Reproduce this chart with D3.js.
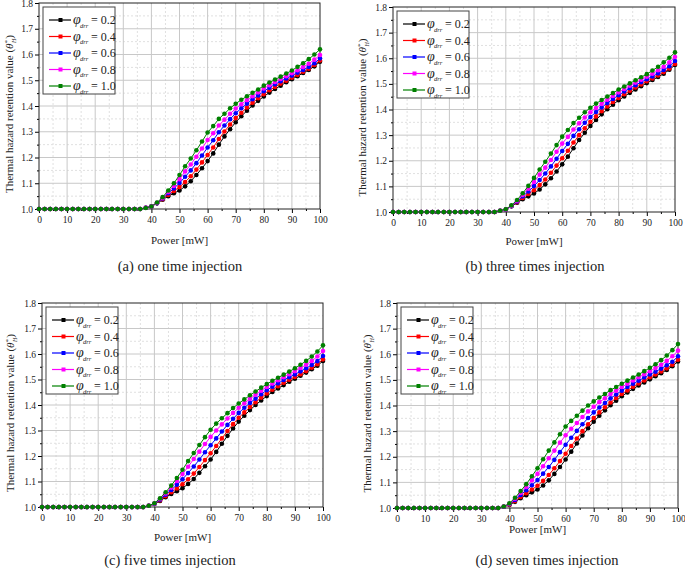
<!DOCTYPE html>
<html>
<head>
<meta charset="utf-8">
<script src="https://cdn.jsdelivr.net/npm/d3@7"></script>
<style>
  body { margin: 0; background: #fff; }
  svg { display: block; }
  svg text { font-family: "Liberation Serif", "Times New Roman", Times, "DejaVu Serif", serif; }
</style>
</head>
<body>
<div id="chart"></div>
<script>
// x values (Power, mW) and tick labels
const power = [0,2,4,6,8,10,12,14,16,18,20,22,24,26,28,30,32,34,36,38,40,42,44,46,48,50,52,54,56,58,60,62,64,66,68,70,72,74,76,78,80,82,84,86,88,90,92,94,96,98,100];
const xTicks = [0,10,20,30,40,50,60,70,80,90,100];
const xMinor = [5,15,25,35,45,55,65,75,85,95];
const yTicks = [1.0,1.1,1.2,1.3,1.4,1.5,1.6,1.7,1.8];
const yMinor = [1.05,1.15,1.25,1.35,1.45,1.55,1.65,1.75];
const phiLabels = ["0.2","0.4","0.6","0.8","1.0"];
const seriesColors = ["#000000","#ff0000","#0000ff","#ff00ff","#008000"];
const captions = ["(a) one time injection","(b) three times injection","(c) five times injection","(d) seven times injection"];
const serif = "'Liberation Serif', 'Times New Roman', Times, 'DejaVu Serif', serif";

// (a) one time injection
const a02 = [1,1,1,1,1,1,1,1,1,1,1,1,1,1,1,1,1,1,1,1.005,1.010,1.022,1.036,1.050,1.061,1.072,1.088,1.108,1.132,1.158,1.186,1.216,1.250,1.282,1.310,1.337,1.360,1.382,1.402,1.420,1.437,1.452,1.466,1.479,1.492,1.504,1.516,1.528,1.540,1.554,1.572];
const a04 = [1,1,1,1,1,1,1,1,1,1,1,1,1,1,1,1,1,1,1,1.005,1.010,1.023,1.038,1.055,1.070,1.085,1.105,1.127,1.153,1.181,1.210,1.239,1.272,1.301,1.328,1.353,1.374,1.394,1.413,1.430,1.446,1.461,1.474,1.487,1.498,1.510,1.521,1.533,1.545,1.559,1.577];
const a06 = [1,1,1,1,1,1,1,1,1,1,1,1,1,1,1,1,1,1,1,1.005,1.010,1.023,1.041,1.061,1.080,1.101,1.125,1.150,1.178,1.208,1.239,1.267,1.298,1.324,1.349,1.372,1.391,1.409,1.426,1.441,1.457,1.471,1.484,1.496,1.507,1.518,1.529,1.540,1.552,1.566,1.585];
const a08 = [1,1,1,1,1,1,1,1,1,1,1,1,1,1,1,1,1,1,1,1.005,1.010,1.024,1.043,1.066,1.090,1.116,1.146,1.173,1.203,1.235,1.268,1.294,1.324,1.347,1.370,1.390,1.407,1.423,1.438,1.453,1.468,1.481,1.493,1.505,1.516,1.527,1.539,1.551,1.564,1.580,1.598];
const a10 = [1,1,1,1,1,1,1,1,1,1,1,1,1,1,1,1,1,1,1,1.004,1.010,1.025,1.046,1.072,1.100,1.132,1.166,1.196,1.228,1.262,1.297,1.322,1.350,1.370,1.391,1.409,1.424,1.438,1.451,1.464,1.479,1.491,1.503,1.514,1.526,1.538,1.552,1.566,1.582,1.600,1.620];

// (b) three times injection
const b02 = [1,1,1,1,1,1,1,1,1,1,1,1,1,1,1,1,1,1,1,1.005,1.010,1.022,1.036,1.050,1.061,1.072,1.088,1.108,1.132,1.158,1.186,1.216,1.249,1.281,1.309,1.336,1.359,1.381,1.401,1.419,1.436,1.451,1.465,1.478,1.491,1.503,1.515,1.527,1.540,1.555,1.574];
const b04 = [1,1,1,1,1,1,1,1,1,1,1,1,1,1,1,1,1,1,1,1.005,1.010,1.023,1.038,1.055,1.070,1.085,1.105,1.127,1.153,1.181,1.210,1.239,1.271,1.300,1.327,1.352,1.373,1.393,1.412,1.429,1.445,1.460,1.473,1.486,1.498,1.510,1.521,1.533,1.546,1.560,1.578];
const b06 = [1,1,1,1,1,1,1,1,1,1,1,1,1,1,1,1,1,1,1,1.005,1.010,1.023,1.041,1.061,1.080,1.101,1.125,1.150,1.178,1.208,1.238,1.266,1.297,1.323,1.348,1.371,1.390,1.408,1.425,1.441,1.456,1.470,1.483,1.495,1.507,1.518,1.529,1.541,1.554,1.569,1.589];
const b08 = [1,1,1,1,1,1,1,1,1,1,1,1,1,1,1,1,1,1,1,1.005,1.010,1.024,1.044,1.067,1.091,1.117,1.146,1.173,1.203,1.235,1.267,1.293,1.322,1.346,1.369,1.389,1.406,1.422,1.438,1.453,1.467,1.480,1.493,1.505,1.516,1.528,1.540,1.553,1.567,1.584,1.605];
const b10 = [1,1,1,1,1,1,1,1,1,1,1,1,1,1,1,1,1,1,1,1.005,1.011,1.026,1.047,1.073,1.102,1.133,1.166,1.196,1.228,1.261,1.294,1.320,1.347,1.368,1.389,1.407,1.423,1.437,1.451,1.464,1.478,1.490,1.502,1.514,1.526,1.538,1.552,1.567,1.584,1.602,1.623];

// (c) five times injection
const c02 = [1,1,1,1,1,1,1,1,1,1,1,1,1,1,1,1,1,1,1,1.005,1.012,1.024,1.038,1.051,1.062,1.074,1.090,1.110,1.134,1.160,1.186,1.216,1.248,1.279,1.308,1.335,1.358,1.380,1.400,1.418,1.435,1.451,1.465,1.478,1.491,1.503,1.515,1.527,1.540,1.554,1.573];
const c04 = [1,1,1,1,1,1,1,1,1,1,1,1,1,1,1,1,1,1,1,1.005,1.013,1.026,1.042,1.058,1.073,1.089,1.109,1.131,1.157,1.184,1.211,1.239,1.269,1.298,1.325,1.350,1.371,1.392,1.411,1.429,1.445,1.460,1.474,1.487,1.499,1.510,1.521,1.533,1.546,1.560,1.579];
const c06 = [1,1,1,1,1,1,1,1,1,1,1,1,1,1,1,1,1,1,1,1.005,1.013,1.029,1.048,1.067,1.087,1.109,1.133,1.159,1.186,1.215,1.242,1.269,1.296,1.322,1.346,1.369,1.389,1.408,1.425,1.442,1.458,1.472,1.485,1.498,1.509,1.520,1.532,1.544,1.557,1.572,1.592];
const c08 = [1,1,1,1,1,1,1,1,1,1,1,1,1,1,1,1,1,1,1,1.005,1.014,1.032,1.053,1.076,1.102,1.129,1.158,1.188,1.217,1.247,1.275,1.300,1.324,1.347,1.369,1.389,1.407,1.424,1.440,1.456,1.471,1.484,1.497,1.509,1.521,1.533,1.545,1.558,1.573,1.590,1.612];
const c10 = [1,1,1,1,1,1,1,1,1,1,1,1,1,1,1,1,1,1,1,1.005,1.015,1.034,1.058,1.084,1.114,1.146,1.180,1.212,1.243,1.274,1.303,1.327,1.348,1.368,1.388,1.406,1.422,1.438,1.453,1.468,1.482,1.495,1.507,1.519,1.531,1.544,1.558,1.573,1.590,1.610,1.634];

// (d) seven times injection
const d02 = [1,1,1,1,1,1,1,1,1,1,1,1,1,1,1,1,1,1,1,1.005,1.012,1.024,1.038,1.050,1.061,1.072,1.088,1.108,1.133,1.160,1.189,1.220,1.252,1.283,1.311,1.337,1.360,1.381,1.401,1.419,1.436,1.451,1.465,1.478,1.490,1.502,1.514,1.526,1.539,1.553,1.572];
const d04 = [1,1,1,1,1,1,1,1,1,1,1,1,1,1,1,1,1,1,1,1.005,1.013,1.027,1.043,1.058,1.072,1.087,1.106,1.129,1.155,1.183,1.212,1.242,1.271,1.300,1.327,1.351,1.373,1.393,1.412,1.429,1.445,1.459,1.473,1.486,1.498,1.510,1.521,1.533,1.545,1.559,1.579];
const d06 = [1,1,1,1,1,1,1,1,1,1,1,1,1,1,1,1,1,1,1,1.005,1.015,1.031,1.051,1.069,1.089,1.109,1.134,1.160,1.188,1.218,1.247,1.274,1.301,1.327,1.351,1.373,1.392,1.410,1.428,1.443,1.458,1.472,1.485,1.497,1.509,1.521,1.532,1.544,1.557,1.571,1.592];
const d08 = [1,1,1,1,1,1,1,1,1,1,1,1,1,1,1,1,1,1,1,1.006,1.016,1.036,1.059,1.082,1.108,1.133,1.163,1.194,1.224,1.255,1.284,1.309,1.332,1.355,1.377,1.395,1.413,1.428,1.445,1.458,1.472,1.485,1.498,1.510,1.522,1.534,1.546,1.559,1.574,1.592,1.614];
const d10 = [1,1,1,1,1,1,1,1,1,1,1,1,1,1,1,1,1,1,1,1.006,1.018,1.040,1.066,1.093,1.124,1.155,1.190,1.224,1.256,1.288,1.318,1.340,1.360,1.380,1.400,1.416,1.431,1.445,1.460,1.472,1.485,1.497,1.509,1.521,1.534,1.547,1.561,1.577,1.595,1.616,1.640];

// layout of each sub-figure
const panels = [
  {left: 39,  right: 320, top: 3,   bottom: 209, titleY: 244, capX: 180, capY: 271, labX: 9,   series: [a02,a04,a06,a08,a10], caption: captions[0]},
  {left: 393, right: 675, top: 7,   bottom: 212, titleY: 245, capX: 535, capY: 271, labX: 362, series: [b02,b04,b06,b08,b10], caption: captions[1]},
  {left: 42,  right: 323, top: 303, bottom: 507, titleY: 541, capX: 170, capY: 565, labX: 10,  series: [c02,c04,c06,c08,c10], caption: captions[2]},
  {left: 397, right: 678, top: 303, bottom: 508, titleY: 532.5, capX: 547, capY: 565, labX: 367, series: [d02,d04,d06,d08,d10], caption: captions[3]}
];

const svg = d3.select("#chart").append("svg")
  .attr("width", 685)
  .attr("height", 568)
  .attr("font-family", serif);

svg.append("rect").attr("width", 685).attr("height", 568).attr("fill", "#fff");

function drawPanel(p) {
  const x = d3.scaleLinear().domain([0, 100]).range([p.left, p.right]);
  const y = d3.scaleLinear().domain([1.0, 1.8]).range([p.bottom, p.top]);
  const g = svg.append("g");

  // minor grid (dashed)
  g.selectAll(null).data(xMinor).join("line")
    .attr("x1", d => x(d)).attr("x2", d => x(d))
    .attr("y1", p.top).attr("y2", p.bottom)
    .attr("stroke", "#e0e0e0").attr("stroke-dasharray", "2,2");
  g.selectAll(null).data(yMinor).join("line")
    .attr("x1", p.left).attr("x2", p.right)
    .attr("y1", d => y(d)).attr("y2", d => y(d))
    .attr("stroke", "#e0e0e0").attr("stroke-dasharray", "2,2");

  // major grid
  g.selectAll(null).data(xTicks.slice(1, -1)).join("line")
    .attr("x1", d => x(d)).attr("x2", d => x(d))
    .attr("y1", p.top).attr("y2", p.bottom)
    .attr("stroke", "#c8c8c8");
  g.selectAll(null).data(yTicks.slice(1, -1)).join("line")
    .attr("x1", p.left).attr("x2", p.right)
    .attr("y1", d => y(d)).attr("y2", d => y(d))
    .attr("stroke", "#c8c8c8");

  // axes
  g.append("g").attr("transform", `translate(0,${p.bottom})`)
    .call(d3.axisBottom(x).tickValues(xTicks).tickSize(4).tickPadding(3));
  g.append("g").attr("transform", `translate(0,${p.bottom})`)
    .call(d3.axisBottom(x).tickValues(xMinor).tickSize(2).tickFormat(""));
  g.append("g").attr("transform", `translate(${p.left},0)`)
    .call(d3.axisLeft(y).tickValues(yTicks).tickSize(4).tickPadding(2).tickFormat(d3.format(".1f")));
  g.append("g").attr("transform", `translate(${p.left},0)`)
    .call(d3.axisLeft(y).tickValues(yMinor).tickSize(2).tickFormat(""));
  g.selectAll(".domain").remove();
  g.selectAll("g").attr("font-family", serif);
  g.selectAll(".tick text")
    .attr("font-size", 9.5)
    .attr("fill", "#222");

  // frame
  g.append("rect")
    .attr("x", p.left).attr("y", p.top)
    .attr("width", p.right - p.left).attr("height", p.bottom - p.top)
    .attr("fill", "none").attr("stroke", "#222");

  // series
  const line = d3.line().x((d, i) => x(power[i])).y(d => y(d));
  p.series.forEach((vals, k) => {
    g.append("path").datum(vals)
      .attr("d", line)
      .attr("fill", "none")
      .attr("stroke", seriesColors[k])
      .attr("stroke-width", 1);
    g.selectAll(null).data(vals).join("circle")
      .attr("cx", (d, i) => x(power[i]))
      .attr("cy", d => y(d))
      .attr("r", 2.3)
      .attr("fill", seriesColors[k]);
  });

  // legend
  const bx = p.left + 4, by = p.top + 4;
  g.append("rect").attr("x", bx).attr("y", by).attr("width", 72).attr("height", 87)
    .attr("fill", "#fff").attr("stroke", "#444");
  phiLabels.forEach((lab, k) => {
    const ry = by + 13 + k * 16.5;
    g.append("line").attr("x1", bx + 6).attr("x2", bx + 28).attr("y1", ry).attr("y2", ry)
      .attr("stroke", seriesColors[k]).attr("stroke-width", 1.2);
    g.append("rect").attr("x", bx + 15.5).attr("y", ry - 2).attr("width", 4).attr("height", 4)
      .attr("fill", seriesColors[k]);
    g.append("text").attr("x", bx + 30).attr("y", ry + 4)
      .attr("font-size", 14).attr("font-style", "italic").attr("fill", "#222").text("φ");
    g.append("text").attr("x", bx + 37).attr("y", ry + 7.5)
      .attr("font-size", 6.5).attr("font-style", "italic").attr("fill", "#222").text("drr");
    g.append("text").attr("x", bx + 48).attr("y", ry + 4)
      .attr("font-size", 12).attr("fill", "#222").text("= " + lab);
  });

  // axis titles
  g.append("text")
    .attr("x", (p.left + p.right) / 2).attr("y", p.titleY)
    .attr("text-anchor", "middle").attr("font-size", 11).attr("fill", "#222")
    .text("Power [mW]");

  const yl = g.append("text")
    .attr("transform", `translate(${p.labX + 4},${(p.top + p.bottom) / 2 + 8}) rotate(-90)`)
    .attr("text-anchor", "middle").attr("font-size", 11).attr("fill", "#222");
  yl.append("tspan").text("Thermal hazard retention value (");
  yl.append("tspan").attr("font-style", "italic").text("θ");
  yl.append("tspan").attr("font-size", 7).attr("dy", -4).text("*");
  yl.append("tspan").attr("font-size", 6).attr("font-style", "italic").attr("dx", -3).attr("dy", 7).text("H");
  yl.append("tspan").attr("dy", -3).text(")");

  // caption
  svg.append("text")
    .attr("x", p.capX).attr("y", p.capY)
    .attr("text-anchor", "middle").attr("font-size", 14.5).attr("fill", "#222")
    .text(p.caption);
}

panels.forEach(drawPanel);
</script>
</body>
</html>
